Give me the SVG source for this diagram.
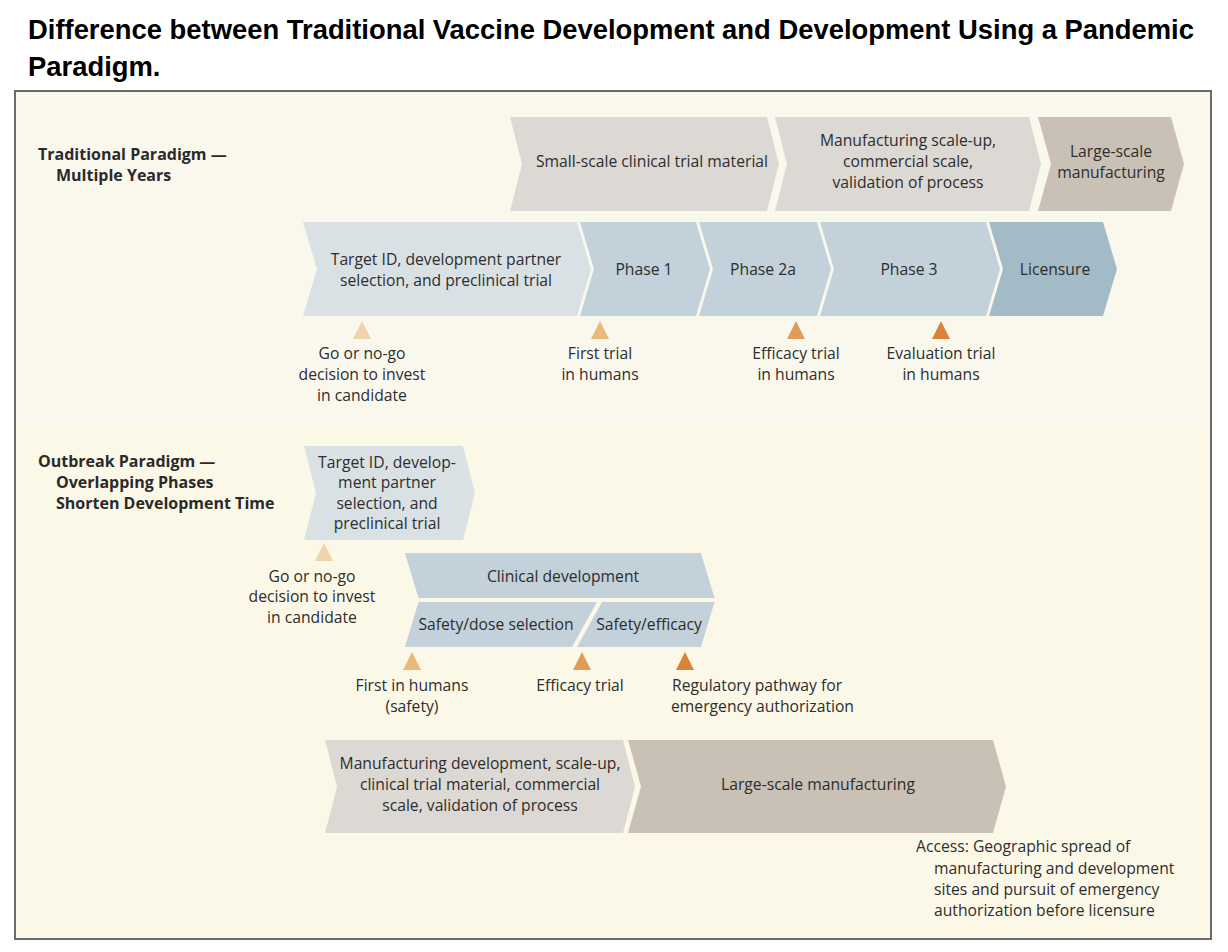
<svg xmlns="http://www.w3.org/2000/svg" width="1228" height="952" viewBox="0 0 1228 952">
<style>
.title{font-family:"Liberation Sans",Arial,sans-serif;font-weight:bold;font-size:27.4px;fill:#000}
.hd{font-family:"Open Sans",sans-serif;font-weight:bold;font-size:16px;fill:#2a2a2a}
.t{font-family:"Open Sans",sans-serif;font-size:15.7px;fill:#2d2d2d;text-anchor:middle}
.tl{font-family:"Open Sans",sans-serif;font-size:15.7px;fill:#2d2d2d}
.gray{fill:#dcd8d4}
.tan{fill:#c9c1b6}
.lb{fill:#dae1e5}
.mb{fill:#c2d1da}
.db{fill:#a3bac7}
.m1{fill:#f0d2ab}
.m2{fill:#eab979}
.m3{fill:#e09b58}
.m4{fill:#d9823a}
</style>
<rect width="1228" height="952" fill="#ffffff"/>
<text class="title" x="28" y="39">Difference between Traditional Vaccine Development and Development Using a Pandemic</text>
<text class="title" x="28" y="76">Paradigm.</text>
<rect x="15" y="91" width="1196" height="335" fill="#faf8ed"/>
<rect x="15" y="426" width="1196" height="513" fill="#fcf8e7"/>
<rect x="15" y="91" width="1196" height="848" fill="none" stroke="#6b6b6b" stroke-width="2"/>

<g id="traditional-header">
<text class="hd" x="38" y="160">Traditional Paradigm —</text>
<text class="hd" x="56" y="181">Multiple Years</text>
</g>

<g id="small-scale">
<path class="gray" d="M510,117 L767,117 L779,164 L767,211 L510,211 L522,164 Z"/>
<text class="t" x="652" y="167">Small-scale clinical trial material</text>
</g>
<g id="mfg-scale-up">
<path class="gray" d="M775,117 L1029,117 L1041,164 L1029,211 L775,211 L787,164 Z"/>
<text class="t" x="908" y="146">Manufacturing scale-up,</text>
<text class="t" x="908" y="167">commercial scale,</text>
<text class="t" x="908" y="188">validation of process</text>
</g>
<g id="large-scale-trad">
<path class="tan" d="M1038,117 L1171,117 L1184,164 L1171,211 L1038,211 L1051,164 Z"/>
<text class="t" x="1111" y="157">Large-scale</text>
<text class="t" x="1111" y="178">manufacturing</text>
</g>

<g id="target-trad">
<path class="lb" d="M303,222 L577,222 L591,269 L577,316 L303,316 L317,269 Z"/>
<text class="t" x="446" y="265">Target ID, development partner</text>
<text class="t" x="446" y="286">selection, and preclinical trial</text>
</g>
<g id="phase1">
<path class="mb" d="M580,222 L696,222 L710,269 L696,316 L580,316 L594,269 Z"/>
<text class="t" x="644" y="275">Phase 1</text>
</g>
<g id="phase2a">
<path class="mb" d="M699,222 L817,222 L831,269 L817,316 L699,316 L713,269 Z"/>
<text class="t" x="763" y="275">Phase 2a</text>
</g>
<g id="phase3">
<path class="mb" d="M820,222 L986,222 L1000,269 L986,316 L820,316 L834,269 Z"/>
<text class="t" x="909" y="275">Phase 3</text>
</g>
<g id="licensure">
<path class="db" d="M989,222 L1103,222 L1117,269 L1103,316 L989,316 L1003,269 Z"/>
<text class="t" x="1055" y="275">Licensure</text>
</g>

<g id="go-no-go-trad">
<path class="m1" d="M362,321 L371,339 L353,339 Z"/>
<text class="t" x="362" y="359">Go or no-go</text>
<text class="t" x="362" y="380">decision to invest</text>
<text class="t" x="362" y="401">in candidate</text>
</g>
<g id="first-trial">
<path class="m2" d="M600,321 L609,339 L591,339 Z"/>
<text class="t" x="600" y="359">First trial</text>
<text class="t" x="600" y="380">in humans</text>
</g>
<g id="efficacy-trad">
<path class="m3" d="M796,321 L805,339 L787,339 Z"/>
<text class="t" x="796" y="359">Efficacy trial</text>
<text class="t" x="796" y="380">in humans</text>
</g>
<g id="evaluation-trad">
<path class="m4" d="M941,321 L950,339 L932,339 Z"/>
<text class="t" x="941" y="359">Evaluation trial</text>
<text class="t" x="941" y="380">in humans</text>
</g>

<g id="outbreak-header">
<text class="hd" x="38" y="467">Outbreak Paradigm —</text>
<text class="hd" x="56" y="488">Overlapping Phases</text>
<text class="hd" x="56" y="509">Shorten Development Time</text>
</g>

<g id="target-outbreak">
<path class="lb" d="M304,446 L463,446 L475,493 L463,540 L304,540 L316,493 Z"/>
<text class="t" x="387" y="468">Target ID, develop-</text>
<text class="t" x="387" y="488">ment partner</text>
<text class="t" x="387" y="509">selection, and</text>
<text class="t" x="387" y="529">preclinical trial</text>
</g>
<g id="go-no-go-outbreak">
<path class="m1" d="M324,543 L333,561 L315,561 Z"/>
<text class="t" x="312" y="582">Go or no-go</text>
<text class="t" x="312" y="602">decision to invest</text>
<text class="t" x="312" y="623">in candidate</text>
</g>

<g id="clinical-development">
<path class="mb" d="M405,553 L701,553 L714.5,598 L418.5,598 Z"/>
<text class="t" x="563" y="582">Clinical development</text>
</g>
<g id="safety-dose">
<path class="mb" d="M418.5,602 L597,602 L572,647 L405,647 Z"/>
<text class="t" x="496" y="630">Safety/dose selection</text>
</g>
<g id="safety-efficacy">
<path class="mb" d="M602,602 L714.5,602 L701,647 L577,647 Z"/>
<text class="t" x="649" y="630">Safety/efficacy</text>
</g>

<g id="first-humans">
<path class="m2" d="M412,652 L421,670 L403,670 Z"/>
<text class="t" x="412" y="691">First in humans</text>
<text class="t" x="412" y="712">(safety)</text>
</g>
<g id="efficacy-outbreak">
<path class="m3" d="M582,652 L591,670 L573,670 Z"/>
<text class="t" x="580" y="691">Efficacy trial</text>
</g>
<g id="regulatory">
<path class="m4" d="M685,652 L694,670 L676,670 Z"/>
<text class="tl" x="672" y="691">Regulatory pathway for</text>
<text class="tl" x="671" y="712">emergency authorization</text>
</g>

<g id="mfg-development">
<path class="gray" d="M325,740 L623,740 L635,786.5 L623,833 L325,833 L337,786.5 Z"/>
<text class="t" x="480" y="769">Manufacturing development, scale-up,</text>
<text class="t" x="480" y="790">clinical trial material, commercial</text>
<text class="t" x="480" y="811">scale, validation of process</text>
</g>
<g id="large-scale-outbreak">
<path class="tan" d="M628,740 L993,740 L1006,786.5 L993,833 L628,833 L641,786.5 Z"/>
<text class="t" x="818" y="790">Large-scale manufacturing</text>
</g>

<g id="access">
<text class="tl" x="916" y="852">Access: Geographic spread of</text>
<text class="tl" x="934" y="874">manufacturing and development</text>
<text class="tl" x="934" y="895">sites and pursuit of emergency</text>
<text class="tl" x="934" y="916">authorization before licensure</text>
</g>

<g id="connectors"></g>
</svg>
